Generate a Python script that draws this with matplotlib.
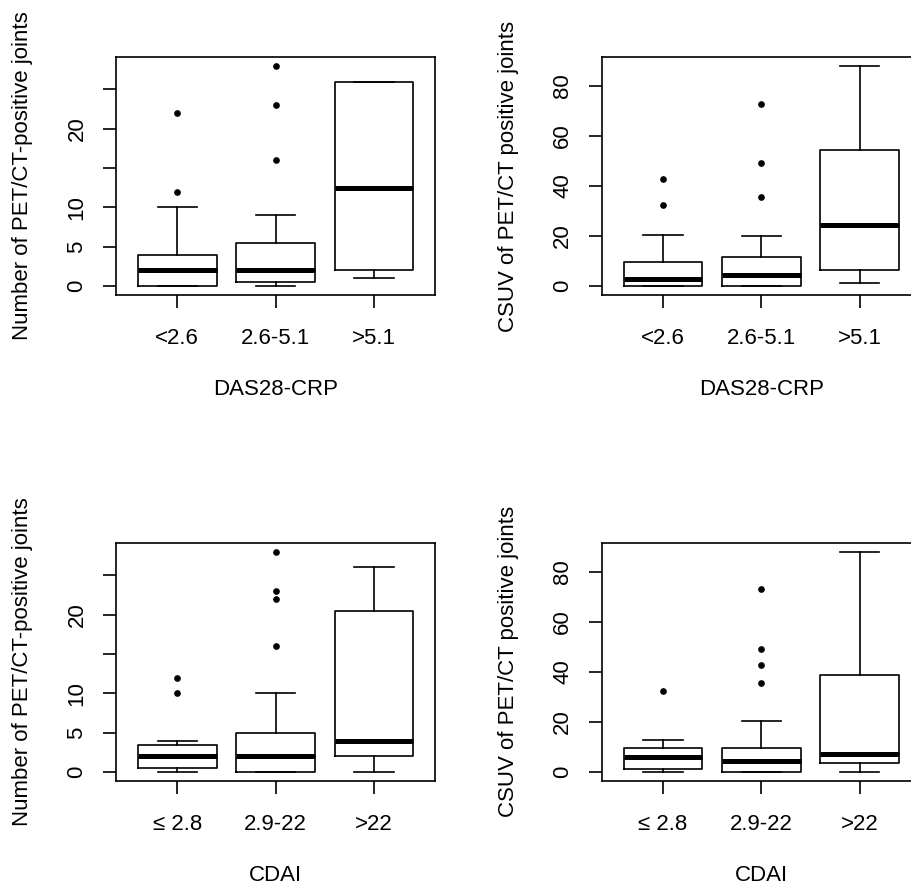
import matplotlib
matplotlib.use("Agg")
import matplotlib.pyplot as plt

plt.rcParams['font.family'] = ['Liberation Sans', 'DejaVu Sans']

# ---------------- data ----------------
das_groups = ["<2.6", "2.6-5.1", ">5.1"]
cdai_groups = ["\u2264 2.8", "2.9-22", ">22"]

# Panel A: number of PET/CT-positive joints by DAS28-CRP
cnt_das_lo = [0, 0, 1]
cnt_das_q1 = [0, 0.5, 2]
cnt_das_med = [2, 2, 12.5]
cnt_das_q3 = [4, 5.5, 26]
cnt_das_hi = [10, 9, 26]
cnt_das_out = [[12, 22], [16, 23, 28], []]

# Panel B: CSUV by DAS28-CRP
csuv_das_lo = [0, 0, 1.4]
csuv_das_q1 = [0, 0.2, 6.6]
csuv_das_med = [2.9, 4.6, 24.4]
csuv_das_q3 = [9.7, 11.5, 54.2]
csuv_das_hi = [20.5, 20.2, 88]
csuv_das_out = [[32.3, 42.9], [35.5, 49.3, 72.9], []]

# Panel C: number of PET/CT-positive joints by CDAI
cnt_cdai_lo = [0, 0, 0]
cnt_cdai_q1 = [0.5, 0, 2]
cnt_cdai_med = [2, 2, 4]
cnt_cdai_q3 = [3.5, 5, 20.5]
cnt_cdai_hi = [4, 10, 26]
cnt_cdai_out = [[10, 12], [16, 22, 23, 28], []]

# Panel D: CSUV by CDAI
csuv_cdai_lo = [0, 0, 0]
csuv_cdai_q1 = [1.4, 0, 3.5]
csuv_cdai_med = [6.1, 4.3, 7.2]
csuv_cdai_q3 = [9.8, 9.8, 38.9]
csuv_cdai_hi = [12.9, 20.6, 88]
csuv_cdai_out = [[32.4], [35.6, 42.9, 49.3, 73.1], []]

count_ticks = [0, 5, 10, 15, 20, 25]
count_ticklabels = ["0", "5", "10", "", "20", ""]
csuv_ticks = [0, 20, 40, 60, 80]
csuv_ticklabels = ["0", "20", "40", "60", "80"]

ylab_count = "Number of PET/CT-positive joints"
ylab_csuv = "CSUV of PET/CT positive joints"

# ---------------- figure ----------------
W, H = 912, 888
fig = plt.figure(figsize=(W / 100, H / 100), dpi=100)

FS = 16
LW = 1.2


def make_panel(rect, lo, q1, med, q3, hi, out, groups, ticks, ticklabels, xlabel, ylabel):
    ax = fig.add_axes(rect)
    stats = []
    for i in range(len(groups)):
        stats.append(dict(whislo=lo[i], q1=q1[i], med=med[i], q3=q3[i],
                          whishi=hi[i], fliers=out[i], label=groups[i]))
    ax.bxp(stats, positions=[1, 2, 3], widths=0.8, capwidths=0.4,
           boxprops=dict(color='black', linewidth=LW),
           medianprops=dict(color='black', linewidth=3.6, solid_capstyle='butt'),
           whiskerprops=dict(color='black', linewidth=LW, linestyle='-'),
           capprops=dict(color='black', linewidth=LW),
           flierprops=dict(marker='o', markerfacecolor='black', markeredgecolor='black',
                           markersize=3.8, linestyle='none'))
    allv = lo + hi + [v for o in out for v in o]
    vmin, vmax = min(allv), max(allv)
    r = vmax - vmin
    ax.set_ylim(vmin - 0.04 * r, vmax + 0.04 * r)
    ax.set_xlim(0.5 - 0.12, 3.5 + 0.12)
    ax.set_xticks([1, 2, 3])
    ax.set_xticklabels(groups, fontsize=FS)
    ax.set_yticks(ticks)
    ax.set_yticklabels(ticklabels, fontsize=FS, rotation=90, va='center')
    ax.tick_params(axis='both', length=9.7, width=LW, direction='out', color='black')
    ax.tick_params(axis='x', pad=14)
    ax.tick_params(axis='y', pad=11)
    for s in ax.spines.values():
        s.set_linewidth(LW)
    ax.set_xlabel(xlabel, fontsize=FS)
    ax.set_ylabel(ylabel, fontsize=FS)
    ax.xaxis.set_label_coords(0.5, -0.395)
    ax.xaxis.label.set_va('center')
    ax.yaxis.set_label_coords(-0.293, 0.5)
    ax.yaxis.label.set_va('center')
    return ax


def rect_px(x0, y0, x1, y1):
    return [x0 / W, 1 - y1 / H, (x1 - x0) / W, (y1 - y0) / H]


make_panel(rect_px(116.3, 57, 435, 295), cnt_das_lo, cnt_das_q1, cnt_das_med, cnt_das_q3,
           cnt_das_hi, cnt_das_out, das_groups, count_ticks, count_ticklabels, "DAS28-CRP", ylab_count)
make_panel(rect_px(602, 57, 920.7, 295), csuv_das_lo, csuv_das_q1, csuv_das_med, csuv_das_q3,
           csuv_das_hi, csuv_das_out, das_groups, csuv_ticks, csuv_ticklabels, "DAS28-CRP", ylab_csuv)
make_panel(rect_px(116.3, 542.7, 435, 781), cnt_cdai_lo, cnt_cdai_q1, cnt_cdai_med, cnt_cdai_q3,
           cnt_cdai_hi, cnt_cdai_out, cdai_groups, count_ticks, count_ticklabels, "CDAI", ylab_count)
make_panel(rect_px(602, 542.7, 920.7, 781), csuv_cdai_lo, csuv_cdai_q1, csuv_cdai_med, csuv_cdai_q3,
           csuv_cdai_hi, csuv_cdai_out, cdai_groups, csuv_ticks, csuv_ticklabels, "CDAI", ylab_csuv)

fig.savefig("out.png", dpi=100)
